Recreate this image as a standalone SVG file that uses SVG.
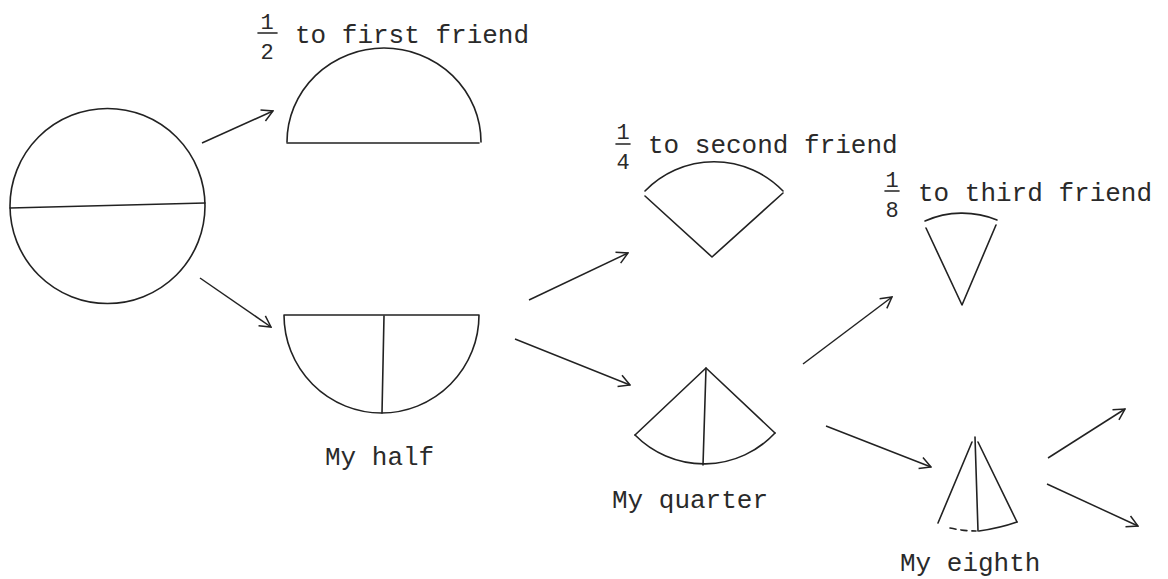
<svg xmlns="http://www.w3.org/2000/svg" width="1168" height="579" viewBox="0 0 1168 579">
<style>
.s{fill:none;stroke:#222;stroke-width:1.6;stroke-linecap:round;stroke-linejoin:round}
.t{font-family:"Liberation Mono","Courier New",monospace;font-size:26px;fill:#2a2a2a}
.f{font-family:"Liberation Mono","Courier New",monospace;font-size:22px;fill:#2a2a2a;text-anchor:middle}
.a{fill:none;stroke:#222;stroke-width:1.5;marker-end:url(#ah)}
</style>
<defs>
<marker id="ah" viewBox="0 0 14 14" refX="13" refY="7" markerWidth="14" markerHeight="14" markerUnits="userSpaceOnUse" orient="auto">
<path d="M2,1 L13,7 L2,13" fill="none" stroke="#222" stroke-width="1.5"/>
</marker>
</defs>
<rect width="1168" height="579" fill="#fff"/>
<g id="whole">
<circle class="s" cx="107.5" cy="206" r="97.5"/>
<line class="s" x1="10" y1="208" x2="205" y2="203"/>
</g>
<g id="first-friend">
<path class="s" d="M287,142 A97,94 0 0 1 481,142"/>
<line class="s" x1="287" y1="143" x2="479" y2="143"/>
<text class="f" x="267" y="29">1</text>
<line class="s" x1="258" y1="33" x2="277" y2="33" stroke-width="1.3"/>
<text class="f" x="267" y="59">2</text>
<text class="t" x="295" y="43">to first friend</text>
</g>
<g id="my-half">
<path class="s" d="M284,315 L479,315 A97.5,98 0 0 1 284,315 Z"/>
<line class="s" x1="384" y1="316" x2="382" y2="413"/>
<text class="t" x="325" y="465">My half</text>
</g>
<g id="second-friend">
<path class="s" d="M645,191 A96,96 0 0 1 783,191"/>
<path class="s" d="M645,196 L712,257 L783,193"/>
<text class="f" x="623" y="139">1</text>
<line class="s" x1="616" y1="144" x2="630" y2="144" stroke-width="1.3"/>
<text class="f" x="623" y="169">4</text>
<text class="t" x="648" y="153">to second friend</text>
</g>
<g id="my-quarter">
<path class="s" d="M635,435 L706,368 L775,433"/>
<path class="s" d="M635,435 A97,97 0 0 0 775,433"/>
<line class="s" x1="706" y1="368" x2="703" y2="465"/>
<text class="t" x="612" y="508">My quarter</text>
</g>
<g id="third-friend">
<path class="s" d="M925,221 A92,92 0 0 1 997,220"/>
<path class="s" d="M926,228 L962,305 L996,225"/>
<text class="f" x="892" y="187">1</text>
<line class="s" x1="885" y1="191" x2="899" y2="191" stroke-width="1.3"/>
<text class="f" x="892" y="217">8</text>
<text class="t" x="918" y="201">to third friend</text>
</g>
<g id="my-eighth">
<line class="s" x1="972" y1="442" x2="938" y2="523"/>
<line class="s" x1="978" y1="442" x2="1017" y2="522"/>
<line class="s" x1="975" y1="437" x2="978" y2="531"/>
<path class="s" d="M950,528 Q964,531 976,531" stroke-dasharray="6,5" stroke-width="1.2"/>
<path class="s" d="M979,531 Q1000,528 1017,522"/>
<text class="t" x="900" y="571">My eighth</text>
</g>
<g id="connectors">
<line class="a" x1="202" y1="143" x2="273" y2="111"/>
<line class="a" x1="200" y1="278" x2="271" y2="327"/>
<line class="a" x1="529" y1="300" x2="628" y2="253"/>
<line class="a" x1="515" y1="339" x2="630" y2="385"/>
<line class="a" x1="803" y1="364" x2="892" y2="297"/>
<line class="a" x1="826" y1="426" x2="931" y2="467"/>
<line class="a" x1="1048" y1="458" x2="1125" y2="409"/>
<line class="a" x1="1047" y1="484" x2="1138" y2="526"/>
</g>
</svg>
